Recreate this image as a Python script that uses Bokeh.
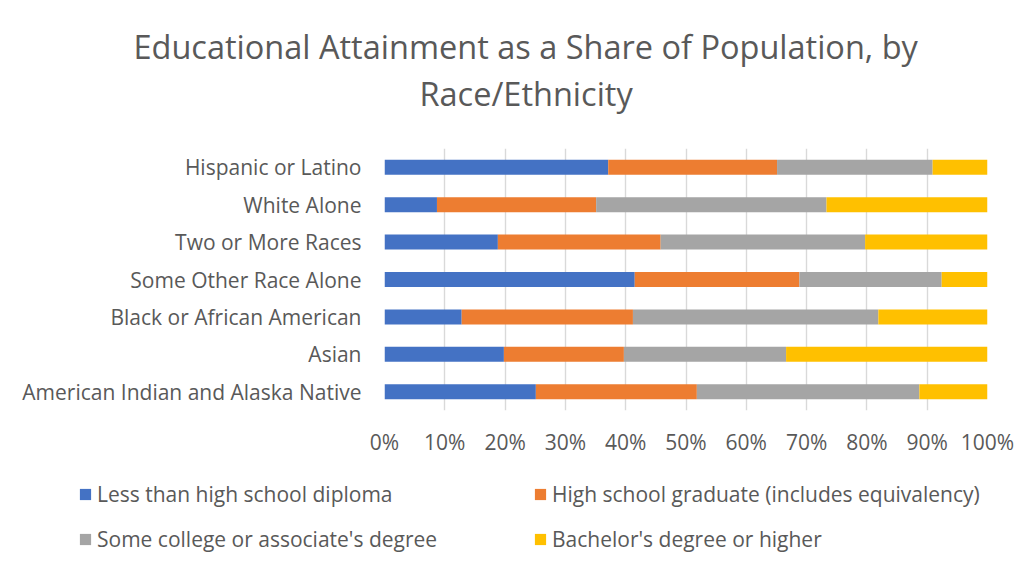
from bokeh.plotting import figure
from bokeh.layouts import column
from bokeh.models import (Range1d, FactorRange, PrintfTickFormatter, FixedTicker,
                          Legend, LegendItem, Title, ColumnDataSource)
from bokeh.embed import file_html
from bokeh.resources import INLINE

categories = ["American Indian and Alaska Native", "Asian", "Black or African American",
              "Some Other Race Alone", "Two or More Races", "White Alone", "Hispanic or Latino"]
less_than_hs = [25.1, 19.8, 12.8, 41.5, 18.8, 8.7, 37.1]
hs_graduate = [26.7, 19.9, 28.4, 27.3, 27.0, 26.4, 28.0]
some_college = [36.9, 26.9, 40.7, 23.6, 33.9, 38.2, 25.8]
bachelors = [11.3, 33.4, 18.1, 7.6, 20.3, 26.7, 9.1]
series_names = ["Less than high school diploma", "High school graduate (includes equivalency)",
                "Some college or associate's degree", "Bachelor's degree or higher"]
tick_values = [0, 10, 20, 30, 40, 50, 60, 70, 80, 90, 100]
title_lines = ["Educational Attainment as a Share of Population, by", "Race/Ethnicity"]

colors = ["#4472C4", "#ED7D31", "#A5A5A5", "#FFC000"]
keys = ["less", "hs", "some", "bach"]
FONT = "Open Sans"
TXT = "#595959"
FS = "21px"
W = 1032

source = ColumnDataSource(dict(cat=categories, less=less_than_hs, hs=hs_graduate,
                               some=some_college, bach=bachelors))

# ---- title strip ----
tf = figure(width=W, height=130, output_backend="svg", toolbar_location=None,
            x_axis_type=None, y_axis_type=None,
            min_border_left=384, min_border_right=45, min_border_top=115, min_border_bottom=0)
tf.outline_line_color = None
tf.background_fill_color = "white"
tf.border_fill_color = "white"
t2 = Title(text=title_lines[1], align="left", offset=35, standoff=0,
           text_font=FONT, text_font_size="32.5px", text_color=TXT, text_font_style="normal")
t1 = Title(text=title_lines[0], align="left", offset=-251, standoff=0,
           text_font=FONT, text_font_size="32.5px", text_color=TXT, text_font_style="normal")
tf.add_layout(t2, "above")
tf.add_layout(t1, "above")

# ---- main chart ----
p = figure(width=W, height=330, y_range=FactorRange(*categories), x_range=Range1d(0, 100),
           output_backend="svg", toolbar_location=None,
           min_border_left=384, min_border_right=45, min_border_top=18, min_border_bottom=50)
p.outline_line_color = None
p.background_fill_color = "white"
p.border_fill_color = "white"

p.hbar_stack(keys, y="cat", height=0.4, color=colors, source=source, line_width=0)

p.xaxis.ticker = FixedTicker(ticks=tick_values)
p.xaxis.formatter = PrintfTickFormatter(format="%d%%")
p.xgrid.ticker = FixedTicker(ticks=tick_values)
p.xgrid.grid_line_color = "#d9d9d9"
p.xgrid.grid_line_width = 1.4
p.ygrid.grid_line_color = None

for ax in (p.xaxis[0], p.yaxis[0]):
    ax.axis_line_color = None
    ax.major_tick_line_color = None
    ax.minor_tick_line_color = None
    ax.major_tick_out = 0
    ax.major_tick_in = 0
    ax.major_label_text_font = FONT
    ax.major_label_text_font_size = FS
    ax.major_label_text_color = TXT
p.xaxis.major_label_standoff = 17
p.yaxis.major_label_standoff = 23

# ---- legend strip (its own full-width frame) ----
lf = figure(width=W, height=111, output_backend="svg", toolbar_location=None,
            x_axis_type=None, y_axis_type=None, min_border=0,
            y_range=FactorRange(*categories), x_range=Range1d(-2, -1))
lf.frame_align = False
lf.outline_line_color = None
lf.background_fill_color = "white"
lf.border_fill_color = "white"
leg_renderers = lf.hbar_stack(keys, y="cat", height=0.4, color=colors, source=source, line_width=0)


def make_legend(idx, loc):
    leg = Legend(items=[LegendItem(label=series_names[i], renderers=[leg_renderers[i]]) for i in idx],
                 location=loc, orientation="vertical")
    leg.glyph_width = 14
    leg.glyph_height = 14
    leg.label_standoff = 5
    leg.label_height = 29
    leg.spacing = 16
    leg.padding = 0
    leg.margin = 0
    leg.border_line_color = None
    leg.background_fill_alpha = 0
    leg.label_text_font = FONT
    leg.label_text_font_size = FS
    leg.label_text_color = TXT
    return leg


lf.add_layout(make_legend([0, 2], (78, 18)))
lf.add_layout(make_legend([1, 3], (533, 18)))

layout = column(tf, p, lf, spacing=0)
open("out.html", "w").write(file_html(layout, INLINE))
